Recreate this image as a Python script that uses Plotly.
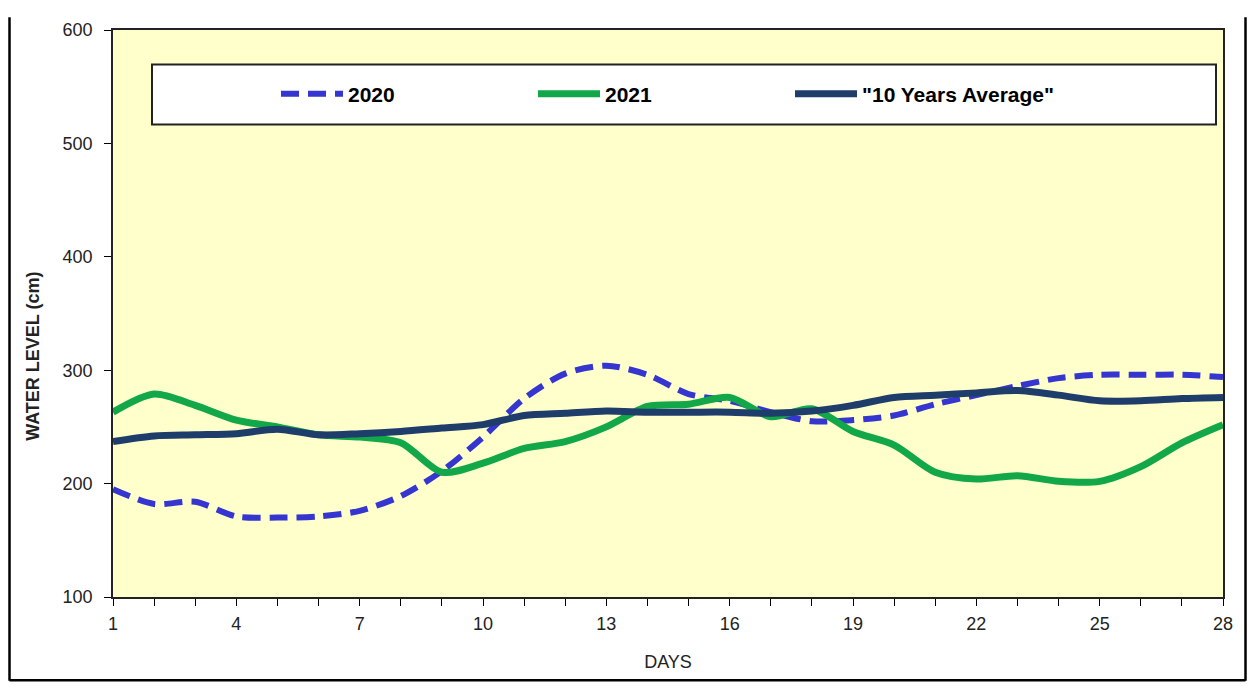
import plotly.graph_objects as go

days = list(range(1, 29))
level_2020 = [195, 182, 184, 171, 170, 171, 176, 189, 211, 241, 275, 297, 304, 296, 279, 273, 263, 255, 256, 260,
              270, 278, 286, 293, 296, 296, 296, 294]
level_2021 = [263, 279, 269, 256, 250, 243, 241, 236, 210, 218, 231, 237, 250, 268, 270, 276, 259, 266, 246, 234,
              210, 204, 207, 202, 202, 215, 236, 252]
level_avg = [237, 242, 243, 244, 248, 243, 244, 246, 249, 252, 260, 262, 264, 263, 263, 263, 262, 264, 269, 276,
             278, 280, 282, 278, 273, 273, 275, 276]
x_tick_vals = list(range(1, 29))
x_tick_text = [str(d) if (d - 1) % 3 == 0 else "" for d in x_tick_vals]

FONT = "Liberation Sans, Arial, sans-serif"

fig = go.Figure()
fig.add_trace(go.Scatter(x=days, y=level_2020, mode="lines", name="2020", legend="legend",
                         line=dict(color="#3535D0", width=6, dash="18px,9px", shape="spline", smoothing=0.8)))
fig.add_trace(go.Scatter(x=days, y=level_2021, mode="lines", name="2021", legend="legend2",
                         line=dict(color="#12A84A", width=7, shape="spline", smoothing=0.8)))
fig.add_trace(go.Scatter(x=days, y=level_avg, mode="lines", name='"10 Years Average"', legend="legend3",
                         line=dict(color="#1F3D6B", width=7, shape="spline", smoothing=0.8)))

# page has an 8px body margin on every side; keep the figure inside the window (no scrollbars)
OFF = 8
W, H = 1255 - 2 * OFF, 691 - 2 * OFF
L, R, T, B = 113 - OFF, W - (1223 - OFF), 21 - OFF, H - (597 - OFF)
pw, ph = W - L - R, H - T - B

def px(x):
    return (x - OFF - L) / pw

def py(y):
    return (H - B - (y - OFF)) / ph

shapes = [
    # legend box
    dict(type="rect", xref="paper", yref="paper", x0=px(152), x1=px(1216), y0=py(117), y1=py(56),
         line=dict(color="#222", width=2), fillcolor="white", layer="above"),
    # outer frame
    dict(type="line", xref="paper", yref="paper", x0=px(9.5), x1=px(9.5), y0=py(8), y1=py(682),
         line=dict(color="black", width=2.5)),
    dict(type="line", xref="paper", yref="paper", x0=px(1245.5), x1=px(1245.5), y0=py(8), y1=py(682),
         line=dict(color="black", width=2.5)),
    dict(type="line", xref="paper", yref="paper", x0=px(9.5), x1=px(1245.5), y0=py(681.5), y1=py(681.5),
         line=dict(color="black", width=2.5)),
]

annotations = [
    dict(text="WATER LEVEL (cm)", xref="paper", yref="paper", x=px(33), y=py(353),
         xanchor="center", yanchor="middle", textangle=-90, showarrow=False,
         font=dict(family=FONT, size=18, color="#222", weight="bold")),
]

def legend_at(xpage):
    return dict(orientation="h", x=px(xpage), xanchor="left", y=py(86), yanchor="middle",
                bgcolor="rgba(0,0,0,0)", borderwidth=0, itemwidth=62,
                font=dict(family=FONT, size=21, color="black", weight="bold"))

fig.update_layout(
    width=W, height=H,
    margin=dict(l=L, r=R, t=T, b=B),
    paper_bgcolor="white",
    plot_bgcolor="#FFFFCC",
    font=dict(family=FONT, size=18, color="#222"),
    showlegend=True,
    legend=legend_at(276),
    legend2=legend_at(533),
    legend3=legend_at(790),
    shapes=shapes,
    annotations=annotations,
    xaxis=dict(range=[1, 28], tickmode="array", tickvals=x_tick_vals, ticktext=x_tick_text,
               ticks="outside", ticklen=7, tickcolor="black", showline=True, linecolor="#222", linewidth=1.5,
               mirror=True, showgrid=False, zeroline=False, ticklabelstandoff=3,
               tickfont=dict(family=FONT, size=18, color="#222"),
               title=dict(text="DAYS", font=dict(family=FONT, size=18, color="#222"), standoff=22)),
    yaxis=dict(range=[100, 600], tickmode="linear", tick0=100, dtick=100,
               ticks="outside", ticklen=7, tickcolor="black", showline=True, linecolor="#222", linewidth=1.5,
               mirror=True, showgrid=False, zeroline=False, ticklabelstandoff=8,
               tickfont=dict(family=FONT, size=18, color="#222")),
)

fig.write_html("out.html")
